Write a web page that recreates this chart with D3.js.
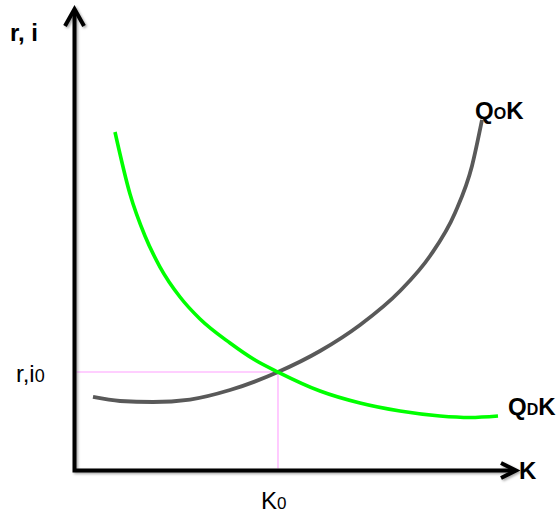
<!DOCTYPE html>
<html>
<head>
<meta charset="utf-8">
<script src="https://cdn.jsdelivr.net/npm/d3@7"></script>
<style>
  html, body { margin: 0; padding: 0; background: #fff; }
  svg { display: block; }
  text { font-family: "Liberation Sans", Arial, sans-serif; fill: #000; }
</style>
</head>
<body>
<svg id="chart" width="559" height="514"></svg>
<script>
// Capital market: demand (QDK) and supply (QOK) of capital K against the rate r, i
const demandK = [9.17, 12.57, 15.97, 19.37, 23.90, 28.43, 35.22, 40.88, 46.09, 55.61, 64.67, 73.73, 82.79, 89.58, 95.92];
const demandR = [73.35, 59.91, 50.81, 44.09, 37.59, 32.83, 27.63, 23.94, 21.34, 17.23, 14.63, 12.89, 11.81, 11.49, 11.81];

const supplyK = [4.19, 10.31, 17.78, 26.16, 35.22, 46.09, 55.61, 64.67, 73.73, 80.52, 86.18, 90.03, 92.30];
const supplyR = [15.93, 15.06, 14.84, 15.38, 17.44, 21.34, 25.89, 31.53, 38.89, 46.48, 55.80, 65.98, 75.95];

// Equilibrium point
const equilibriumK = [46.09];
const equilibriumR = [21.34];

const svg = d3.select("#chart");

const x = d3.scaleLinear().domain([0, 100]).range([74.5, 516]);
const y = d3.scaleLinear().domain([0, 100]).range([470.5, 9]);

// Soft drop shadow used on the axes
const defs = svg.append("defs");
const f = defs.append("filter").attr("id", "shadow")
  .attr("x", "-10%").attr("y", "-10%").attr("width", "120%").attr("height", "120%");
f.append("feDropShadow").attr("dx", 1.5).attr("dy", 1.5)
  .attr("stdDeviation", 1).attr("flood-color", "#000").attr("flood-opacity", 0.35);

const line = d3.line()
  .x(d => x(d[0]))
  .y(d => y(d[1]))
  .curve(d3.curveMonotoneX);

// Guide lines to the equilibrium
const eqK = equilibriumK[0], eqR = equilibriumR[0];
svg.append("line")
  .attr("x1", x(0) + 2).attr("x2", x(eqK))
  .attr("y1", y(eqR)).attr("y2", y(eqR))
  .attr("stroke", "#ffbfff").attr("stroke-width", 1.6);
svg.append("line")
  .attr("x1", x(eqK)).attr("x2", x(eqK))
  .attr("y1", y(eqR)).attr("y2", y(0) - 2)
  .attr("stroke", "#ffbfff").attr("stroke-width", 1.6);

// Supply curve
svg.append("path")
  .datum(d3.zip(supplyK, supplyR))
  .attr("d", line)
  .attr("fill", "none")
  .attr("stroke", "#595959")
  .attr("stroke-width", 3.8);

// Demand curve
svg.append("path")
  .datum(d3.zip(demandK, demandR))
  .attr("d", line)
  .attr("fill", "none")
  .attr("stroke", "#00ff00")
  .attr("stroke-width", 3.6);

// Axes with arrowheads
const axes = svg.append("g").attr("filter", "url(#shadow)")
  .attr("fill", "none").attr("stroke", "#000").attr("stroke-width", 4)
  .attr("stroke-linejoin", "miter");
axes.append("path")
  .attr("d", `M${x(0)},${y(0) + 2}V${y(100) + 2}M${x(100) - 2},${y(0)}H${x(0) - 2}`)
  .attr("stroke-linecap", "butt");
axes.append("path")
  .attr("d", `M${x(0) - 9.5},${y(100) + 17}L${x(0)},${y(100)}L${x(0) + 9.5},${y(100) + 17}`);
axes.append("path")
  .attr("d", `M${x(100) - 15},${y(0) - 7.5}L${x(100)},${y(0)}L${x(100) - 15},${y(0) + 7.5}`);

// Labels
function label(xp, yp, parts, weight) {
  const t = svg.append("text").attr("x", xp).attr("y", yp).attr("font-weight", weight);
  parts.forEach(p => t.append("tspan").attr("font-size", p[1]).text(p[0]));
  return t;
}

label(10, 41, [["r, i", 24]], "bold");
label(519, 479, [["K", 24]], "bold");
label(475, 119, [["Q", 24], ["O", 16], ["K", 24]], "bold");
label(508, 415, [["Q", 24], ["D", 16], ["K", 24]], "bold");
label(16, 382, [["r,i", 24], ["0", 18]], "normal");
label(x(eqK) - 17, 509, [["K", 24], ["0", 17]], "normal");
</script>
</body>
</html>
